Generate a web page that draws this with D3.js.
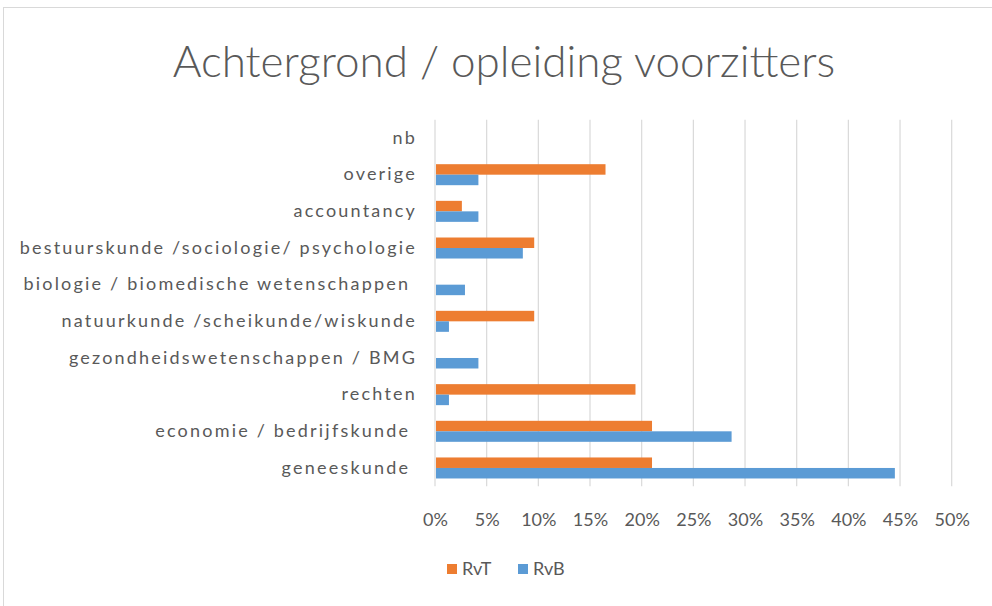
<!DOCTYPE html>
<html>
<head>
<meta charset="utf-8">
<script src="https://cdn.jsdelivr.net/npm/d3@7"></script>
<style>
  body { margin: 0; background: #fff; }
  svg text { font-family: Lato, "Open Sans", sans-serif; fill: #595959; }
</style>
</head>
<body>
<svg class="chart" width="992" height="606"></svg>
<script>
// -------------------- Data --------------------
var categories = [
  "nb",
  "overige",
  "accountancy",
  "bestuurskunde /sociologie/ psychologie",
  "biologie / biomedische wetenschappen ",
  "natuurkunde /scheikunde/wiskunde",
  "gezondheidswetenschappen / BMG",
  "rechten",
  "economie / bedrijfskunde ",
  "geneeskunde "
];
var seriesNames = ["RvT", "RvB"];
var rvt = [0, 0.165, 0.026, 0.096, 0, 0.096, 0, 0.194, 0.21, 0.21];
var rvb = [0, 0.042, 0.042, 0.085, 0.029, 0.0135, 0.042, 0.0135, 0.287, 0.445];
var ticks = [0, 0.05, 0.1, 0.15, 0.2, 0.25, 0.3, 0.35, 0.4, 0.45, 0.5];
var colors = ["#ED7D31", "#5B9BD5"];

// -------------------- Settings --------------------
var plot = {left: 435, right: 951.7, top: 119.7, bottom: 486.3};

var svg = d3.select(".chart");

// outer frame
svg.append("rect")
  .attr("x", 3.5).attr("y", 7.5)
  .attr("width", 992).attr("height", 620)
  .attr("fill", "none")
  .attr("stroke", "#d9d9d9");

// title
svg.append("text")
  .attr("x", 504).attr("y", 77)
  .attr("text-anchor", "middle")
  .style("font-size", "44px")
  .style("font-weight", 300)
  .text("Achtergrond / opleiding voorzitters");

// -------------------- Scales --------------------
var x = d3.scaleLinear().domain([0, 0.5]).range([plot.left, plot.right]);

var y = d3.scaleBand()
  .domain(categories)
  .range([plot.top, plot.bottom])
  .paddingInner(0.427)
  .paddingOuter(0.2135);

var ySub = d3.scaleBand()
  .domain(seriesNames)
  .range([0, y.bandwidth()]);

// gridlines
svg.append("g").selectAll("line")
  .data(ticks)
  .enter().append("line")
    .attr("x1", function(d) { return x(d); })
    .attr("x2", function(d) { return x(d); })
    .attr("y1", plot.top)
    .attr("y2", plot.bottom)
    .attr("stroke", "#d9d9d9")
    .attr("stroke-width", 1.2);

// x axis labels
var xAxis = d3.axisBottom(x)
  .tickValues(ticks)
  .tickFormat(d3.format(".0%"))
  .tickSize(0)
  .tickPadding(0);
var gx = svg.append("g")
  .attr("transform", "translate(0," + 513 + ")")
  .call(xAxis);
gx.select(".domain").remove();
gx.selectAll("text")
  .style("font-size", "18px")
  .attr("fill", "#595959");

// y axis labels (Excel spreads these out a bit)
var yAxis = d3.axisLeft(y).tickSize(0).tickPadding(0);
var gy = svg.append("g")
  .attr("transform", "translate(417,0)")
  .call(yAxis);
gy.select(".domain").remove();
gy.selectAll("text")
  .style("font-size", "18px")
  .style("letter-spacing", "2.2px")
  .style("white-space", "pre")
  .attr("fill", "#595959");

// -------------------- Bars --------------------
var rows = categories.map(function(c, i) {
  return {name: c, values: [rvt[i], rvb[i]]};
});

var group = svg.append("g").selectAll("g")
  .data(rows)
  .enter().append("g")
    .attr("transform", function(d) { return "translate(0," + y(d.name) + ")"; });

group.selectAll("rect")
  .data(function(d) {
    return d.values.map(function(v, j) { return {key: seriesNames[j], value: v, color: colors[j]}; });
  })
  .enter().append("rect")
    .attr("x", x(0) + 1)
    .attr("y", function(d) { return ySub(d.key); })
    .attr("width", function(d) { return Math.max(0, x(d.value) - x(0) - 1); })
    .attr("height", ySub.bandwidth())
    .attr("fill", function(d) { return d.color; });

// -------------------- Legend --------------------
var legend = svg.append("g").selectAll("g")
  .data(seriesNames)
  .enter().append("g")
    .attr("transform", function(d, i) { return "translate(" + (447 + i * 71) + ",564)"; });

legend.append("rect")
  .attr("width", 10).attr("height", 10)
  .attr("fill", function(d, i) { return colors[i]; });

legend.append("text")
  .attr("x", 15).attr("y", 11)
  .style("font-size", "18px")
  .text(function(d) { return d; });
</script>
</body>
</html>
